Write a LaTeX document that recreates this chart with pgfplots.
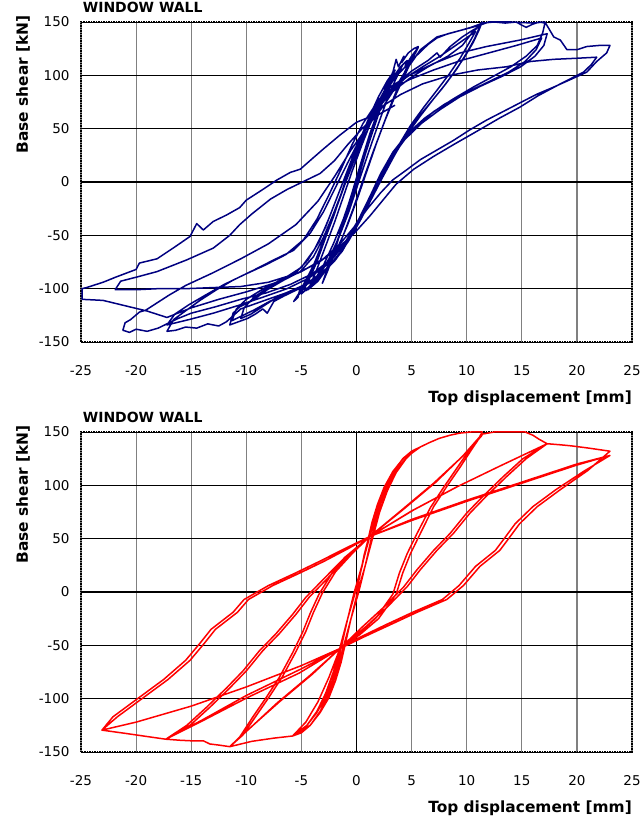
\documentclass[border=0pt]{standalone}
\usepackage{fontspec}
\setmainfont{DejaVu Sans}
\usepackage{pgfplots}
\pgfplotsset{compat=1.18}
\definecolor{expblue}{RGB}{0,0,128}
\definecolor{modred}{RGB}{255,0,0}
\definecolor{vgrid}{RGB}{128,128,128}

\tikzset{zeroline/.style={black, line width=1.8bp}}
\pgfplotsset{
  wallaxis/.style={
    scale only axis, width=551bp, height=320bp,
    xmin=-25, xmax=25, ymin=-150, ymax=150,
    xtick={-25,-20,...,25}, ytick={-150,-100,...,150},
    xticklabels={-25,-20,-15,-10,-5,0,5,10,15,20,25},
    yticklabels={-150,-100,-50,0,50,100,150},
    major tick length=0pt,
    grid=major,
    x grid style={vgrid, line width=1.2bp},
    y grid style={black, line width=0.9bp},
    axis line style={black, line width=1.2bp, dash pattern=on 1.5bp off 1bp},
    tick label style={font=\fontsize{13.5bp}{16bp}\selectfont},
    xticklabel style={yshift=-20bp},
    yticklabel style={xshift=-8bp},
    xlabel={Top displacement [mm]},
    xlabel style={at={(rel axis cs:1,0)}, anchor=east, yshift=-56bp, inner sep=0pt,
      font=\fontsize{15.4bp}{18bp}\selectfont\bfseries},
    ylabel={Base shear [kN]},
    ylabel style={at={(rel axis cs:-0.105,1.022)}, anchor=east, inner sep=0pt,
      font=\fontsize{15.4bp}{18bp}\selectfont\bfseries},
    title={WINDOW WALL},
    title style={at={(rel axis cs:0.003,1)}, anchor=base west, yshift=3.5bp, inner sep=0pt,
      font=\fontsize{14bp}{16bp}\selectfont\bfseries},
  },
}

\begin{document}
\begin{tikzpicture}
\useasboundingbox (-81bp,-71bp) rectangle (561bp,752bp);

% --- test results (top) ---
\begin{axis}[wallaxis, at={(0,410bp)}]
\draw[zeroline] (axis cs:0,-150) -- (axis cs:0,150);
\draw[zeroline] (axis cs:-25,0) -- (axis cs:25,0);
\addplot[expblue, line width=1.5bp, line join=round] coordinates {
(0,0) (0.5,18) (1,35) (1.5,52) (1.1,40) (0.4,15) (-0.4,-12) (-1,-30) (-1.6,-48) (-1.1,-33) (-0.4,-10) (0.4,18) (1.2,45) (1.9,65) (2.5,83) (3.1,100) (2.6,88) (1.9,66) (1.2,40) (0.4,12) (-0.4,-15) (-1.2,-40) (-2,-62) (-2.6,-80) (-3.1,-95) (-2.6,-83) (-1.9,-62) (-1.1,-35) (-0.3,-8) (0.6,22) (1.4,50) (2.2,75) (2.8,92) (3.3,103)
(3.6,115) (3.8,108) (4.3,118) (4.1,112) (4.7,121) (5.2,125) (5.6,127) (5.1,118) (4.5,106) (3.8,90) (3.1,72) (2.3,50) (1.5,28) (0.6,2) (-0.3,-25) (-1.2,-50) (-2.1,-70) (-3,-86) (-3.9,-96) (-4.6,-102) (-5.1,-98) (-5.3,-108) (-5.7,-112) (-5.2,-104) (-4.6,-92) (-3.9,-78) (-3.2,-60) (-2.4,-40) (-1.6,-18) (-0.8,5) (0,28) (0.8,50) (1.6,68) (2.5,85) (3.3,98) (4,108) (4.6,114) (4.4,108) (5,118) (5.6,126) (5,114) (4.2,96) (3.4,78) (2.6,58) (1.8,36) (1,12) (0.1,-15) (-0.8,-40) (-1.7,-62) (-2.6,-80) (-3.5,-93) (-4.4,-101) (-4.9,-97) (-5.1,-104) (-5.5,-109)
(-4.5,-96) (-3.6,-75) (-2.8,-52) (-2,-30) (-1.2,-5) (-0.4,20) (0.4,42) (1.2,62) (2,80) (2.8,95) (3.5,105) (2.9,90) (2.2,70) (1.4,45) (0.6,20) (-0.3,-8) (-1.2,-35) (-2.1,-58) (-3,-78) (-3.8,-92) (-4.3,-99) (-3.6,-82) (-2.8,-60) (-2,-38) (-1.2,-14) (-0.4,10) (0.5,35) (1.3,56) (2.1,74) (3,90) (3.8,103) (4.2,110) (3.5,95) (2.7,75) (1.9,52) (1.1,28) (0.2,0) (-0.7,-28) (-1.6,-52) (-2.5,-72) (-3.4,-88) (-4.3,-98) (-5,-105)
(-4.9,-100) (-4.2,-86) (-3.5,-68) (-2.7,-48) (-1.9,-26) (-1.1,-3) (-0.3,20) (0.6,44) (1.5,65) (2.5,84) (3.5,98) (4.8,112) (5.8,122) (6.5,129) (7.3,135) (8.3,139) (9.4,142) (10.4,145) (11.2,148) (11.4,150)
(11.1,142) (10.6,131) (9.8,117) (8.8,102) (7.8,88) (7,78) (5.8,62) (4.6,45) (3.5,26) (2.4,5) (1.4,-15) (0.4,-35) (-0.7,-55) (-1.9,-73) (-3.3,-88) (-4.8,-98) (-6.6,-107) (-7.5,-112) (-8.1,-123) (-8.5,-119) (-9.2,-124) (-9.9,-128) (-10.7,-131) (-11.5,-134)
(-11.2,-123) (-10.6,-117) (-9.4,-111) (-8.1,-101) (-6.6,-92) (-5.1,-84) (-3.9,-70) (-3,-52) (-2.1,-30) (-1.2,-6) (-0.3,18) (0.6,40) (1.5,60) (2.5,78) (3.6,92) (5,104) (6.5,114) (7.3,121) (7.6,117) (8.5,127) (9.6,136) (10.5,142) (11.2,146)
(10.7,134) (10,121) (9.1,106) (8.1,92) (7,78) (5.8,63) (4.6,46) (3.5,28) (2.5,10) (1.5,-10) (0.5,-30) (-0.5,-50) (-1.6,-68) (-2.9,-83) (-4.5,-95) (-6.2,-104) (-7.9,-112) (-9.3,-120) (-10.3,-125) (-11.3,-130)
(-10.9,-119) (-10,-110) (-8.6,-101) (-7.1,-93) (-5.6,-86) (-4.4,-73) (-3.4,-56) (-2.5,-34) (-1.6,-10) (-0.7,14) (0.2,37) (1.2,58) (2.2,74) (3.2,86) (4.5,98) (6,108) (7.6,118) (9,128) (10.1,136) (10.8,141)
(10.2,130) (9.4,116) (8.4,101) (7.3,86) (6.1,70) (4.9,53) (3.8,34) (2.7,15) (1.7,-6) (0.7,-27) (-0.3,-46) (-1.3,-64) (-2.6,-80) (-4,-92) (-5.6,-101) (-7.2,-108) (-8.7,-118) (-9.6,-124) (-10.5,-128)
(-10.2,-118) (-9.3,-108) (-8,-99) (-6.5,-90) (-5,-80) (-3.8,-63) (-2.8,-42) (-1.9,-18) (-1,6) (-0.1,30) (0.9,52) (2,70) (3.2,84) (4.8,97) (6.5,108) (8.3,118) (9.6,128) (10.5,140) (11.4,149) (12.5,150) (13.5,149) (14.5,150) (15,147) (15.4,145) (16,148) (16.6,150) (17.1,149)
(16.9,140) (16.4,128) (15.4,118) (14,108) (12.4,99) (10.6,89) (8.8,78) (7,66) (5.4,52) (4,36) (2.8,18) (1.8,-2) (0.8,-24) (-0.2,-45) (-1.3,-65) (-2.7,-82) (-4.4,-95) (-6.4,-104) (-8.6,-112) (-10.5,-119) (-11.8,-131) (-12.5,-135) (-13.5,-133) (-14.5,-137) (-15.5,-136) (-16.4,-139) (-17.2,-140)
(-16.6,-129) (-15.4,-120) (-14.2,-111) (-12.7,-101) (-11.2,-92) (-9.4,-83) (-7.5,-73) (-5.7,-64) (-4.2,-48) (-3,-28) (-1.9,-5) (-0.8,18) (0.3,40) (1.2,60) (2.1,78) (3.2,90) (4.6,99) (7,111) (9.4,121) (11.8,127) (14.8,133) (17.3,139)
(17,128) (16.2,118) (14.9,108) (13.2,99) (11.3,90) (9.4,80) (7.6,68) (5.9,55) (4.4,40) (3.1,22) (2,2) (1,-20) (0,-40) (-1.2,-60) (-2.6,-77) (-4.3,-90) (-6.3,-100) (-8.5,-108) (-10.8,-116) (-13,-123) (-15.2,-129) (-17.2,-134)
(-16.5,-124) (-15.2,-115) (-13.7,-106) (-12,-96) (-10.2,-87) (-8.3,-78) (-6.4,-68) (-4.8,-54) (-3.6,-35) (-2.5,-12) (-1.4,12) (-0.4,35) (0.6,55) (1.7,72) (3,86) (4.8,96) (7,105) (9.5,114) (12,121) (14.5,128) (16.8,135)
(16.3,124) (15.3,113) (13.8,103) (12,94) (10,84) (8,73) (6.2,60) (4.6,45) (3.3,28) (2.2,8) (1.2,-14) (0.2,-35) (-1,-56) (-2.4,-73) (-4,-86) (-6,-96) (-8.2,-104) (-10.5,-110) (-12.8,-117) (-15,-123) (-16.2,-128) (-17.2,-133) (-18,-137) (-19,-140) (-20,-138) (-20.6,-141) (-21.2,-139)
(-21,-132) (-20.5,-129) (-19.7,-122) (-19.1,-120) (-17.9,-112) (-17,-106) (-15.5,-97) (-13,-85) (-10.5,-72) (-8,-58) (-5.5,-40) (-3.5,-18) (-2,5) (-0.5,30) (1,52) (2.5,72) (3.5,88) (4.5,105) (5.2,115) (5.8,124) (7.3,136) (9.4,142) (11.2,147) (12,150) (14,150) (16,149) (17.1,150) (17.9,136) (18.5,133) (19.1,124) (20,124) (20.9,127) (22,128) (23,128)
(22.7,121) (21.8,113) (20.9,103) (19.4,96) (17.9,89) (16.3,82) (14.8,74) (13.3,66) (11.8,58) (10.3,49) (8.8,39) (7.3,30) (5.8,21) (4.5,11) (3.3,2) (2.2,-10) (1,-25) (-0.2,-42) (-1.5,-58) (-3,-72) (-5,-84) (-7.5,-95) (-10,-103) (-12.5,-110) (-15,-118) (-17.2,-127) (-19,-121) (-21,-116) (-23,-111) (-24.9,-110) (-24.9,-100)
(-24.5,-99) (-23,-94) (-21.8,-89) (-20,-82) (-19.7,-76) (-18.1,-72) (-16.5,-61) (-15.1,-51) (-14.5,-39) (-13.9,-45) (-13,-37) (-11.8,-31) (-10.6,-24) (-10,-17) (-8.5,-7) (-7.2,2) (-6,9) (-5.1,12) (-4,22) (-3,31) (-1.5,44) (0,56) (1.2,61) (2.5,72) (4,82) (6,92) (8.5,100) (11,105) (13.6,108) (15.8,113) (17.9,115) (20,116) (21.8,117)
(21.3,110) (20.6,103) (18.5,92) (16.5,81) (14.8,70) (13,60) (11,48) (8.8,35) (7,24) (5.2,12) (3.6,-2) (2.4,-17) (1.2,-32) (-0.2,-48) (-1.8,-63) (-3.5,-76) (-5.5,-86) (-8,-94) (-10.5,-98) (-13,-99) (-15.5,-100) (-18,-100) (-20,-101) (-21.9,-101)
(-21.4,-93) (-19.9,-89) (-18.1,-84) (-15.4,-73) (-13,-62) (-11.5,-50) (-10.6,-40) (-9.5,-30) (-7.8,-16) (-6.3,-7) (-5.1,-1) (-3.3,8) (-2,20) (-0.8,35) (0.5,50) (1.8,62) (3.5,72)
};
\end{axis}

% --- numerical model (bottom) ---
\begin{axis}[wallaxis, at={(0,0)}]
\draw[zeroline] (axis cs:0,-150) -- (axis cs:0,150);
\draw[zeroline] (axis cs:-25,0) -- (axis cs:25,0);
\addplot[modred, line width=1.5bp, line join=round] coordinates {
(0,0) (0.3,15) (0.7,35) (1.2,55) (1.8,77) (2.5,96) (3.3,112) (4.2,125) (5,132) (5.8,136)
(4.6,127) (3.6,114) (2.8,99) (2.2,83) (1.7,66) (1.3,48) (0.8,25) (0.2,0) (-0.5,-25) (-1.2,-52) (-1.8,-75) (-2.5,-95) (-3.3,-112) (-4.2,-125) (-5,-132) (-5.8,-135)
(-4.5,-125) (-3.6,-113) (-2.8,-99) (-2.2,-83) (-1.7,-66) (-1.3,-48) (-0.8,-25) (-0.2,0) (0.5,25) (1.2,52) (1.8,75) (2.5,95) (3.3,112) (4.2,125) (5,132) (5.8,136)
(4.3,126) (3.3,113) (2.5,98) (1.9,82) (1.4,65) (1,47) (0.5,24) (-0.1,0) (-0.8,-25) (-1.5,-52) (-2.1,-75) (-2.8,-95) (-3.6,-112) (-4.5,-125) (-5.2,-131) (-5.8,-135)
(-4.2,-125) (-3.3,-113) (-2.5,-99) (-1.9,-83) (-1.4,-66) (-1,-48) (-0.5,-25) (0.1,0) (0.8,25) (1.5,52) (2.1,75) (2.8,95) (3.6,112) (4.5,125) (5.2,132) (5.8,136)
(6.6,140) (7.5,144) (8.5,147) (9.4,149) (10.4,150) (11.4,150)
(11,142) (10.6,136) (9.4,117) (8.2,99) (7,80) (5.8,55) (4.9,36) (4.2,18) (3.6,-2) (2,-25) (0.3,-40) (-1.5,-53) (-2.5,-80) (-3.5,-103) (-4.6,-122) (-5.8,-135) (-7.5,-137) (-9.5,-140) (-11.5,-145)
(-10.6,-136) (-9.4,-117) (-8.2,-99) (-7,-80) (-5.8,-57) (-4.9,-38) (-4.2,-20) (-3.4,-2) (-2.2,18) (-0.6,36) (1.2,52) (4,76) (7,102) (9.5,126) (11.4,147)
(10.3,134) (9.1,116) (7.9,98) (6.7,79) (5.5,55) (4.6,36) (3.9,18) (3.3,-2) (1.8,-24) (0.1,-40) (-1.5,-53) (-4.2,-78) (-7.2,-104) (-9.6,-127) (-11.5,-145)
(-10.3,-134) (-9.1,-116) (-7.9,-98) (-6.7,-79) (-5.5,-56) (-4.6,-37) (-3.9,-19) (-3.1,-1) (-1.9,19) (-0.3,37) (1.2,52) (4.2,77) (7.2,103) (9.6,127) (11.4,148)
(12.5,150) (13.8,150) (15.3,150) (16,147) (16.6,143) (17.3,139)
(15.4,125) (13.6,108) (11.8,90) (10.3,74) (8.8,55) (7.3,39) (5.8,21) (4.6,5) (2.8,-14) (0.8,-33) (-1.5,-53) (-4,-77) (-7,-103) (-9.5,-126) (-11.5,-145) (-12.5,-143.5) (-13.3,-142.5) (-13.9,-139.5) (-15,-139.5) (-16,-139) (-17.3,-138)
(-15.4,-125) (-13.6,-108) (-11.8,-90) (-10.3,-74) (-8.8,-55) (-7.3,-39) (-5.8,-21) (-4.6,-5) (-3,12) (-1,33) (1.2,52) (5,76) (9,98) (13,118) (17.3,139)
(15.1,125) (13.3,108) (11.5,90) (10,74) (8.5,55) (7,39) (5.5,21) (4.3,5) (2.5,-14) (0.5,-33) (-1.5,-53) (-5.2,-76) (-9.9,-99) (-14.2,-122) (-17.3,-138)
(-15.1,-125) (-13.3,-108) (-11.5,-90) (-10,-74) (-8.5,-55) (-7,-39) (-5.5,-21) (-4.3,-5) (-2.7,12) (-0.8,33) (1.2,52) (5.2,77) (9.2,99) (13.2,119) (17.3,139)
(18.5,138) (19.5,137) (21,135) (22,133.5) (23,132)
(21,114) (18.5,96) (16.4,80) (14.8,64) (13.8,50) (13,39) (11.2,24) (9.7,6) (8.2,-7) (5.5,-19) (3,-31) (0.7,-42) (-1.5,-53) (-5,-72) (-10,-97) (-14,-120) (-17.3,-138) (-19,-135.5) (-21,-132.5) (-23.1,-129.5)
(-22.1,-117) (-20,-101) (-17.5,-82) (-15.5,-64) (-14.2,-48) (-13.2,-35) (-11.2,-19) (-10.2,-7) (-8,6) (-5.5,18) (-3.3,29) (-1,41) (1.2,52) (5,68) (10,86) (15,103) (20,120) (23,128)
(20.6,113) (18.1,96) (16,80) (14.4,64) (13.4,50) (12.6,39) (10.8,24) (9.3,6) (7.8,-7) (5.1,-19) (2.6,-31) (0.4,-42) (-1.5,-53) (-5,-69) (-10,-89) (-15,-107) (-20,-122) (-23.1,-129.5)
(-21.7,-117) (-19.6,-101) (-17.1,-82) (-15.1,-64) (-13.8,-48) (-12.8,-35) (-10.8,-19) (-9.8,-7) (-7.6,6) (-5.1,18) (-2.9,29) (-0.7,41) (1.2,52) (5,67) (10,85) (15,102) (20,119) (23,128)
};
\end{axis}
\end{tikzpicture}
\end{document}
